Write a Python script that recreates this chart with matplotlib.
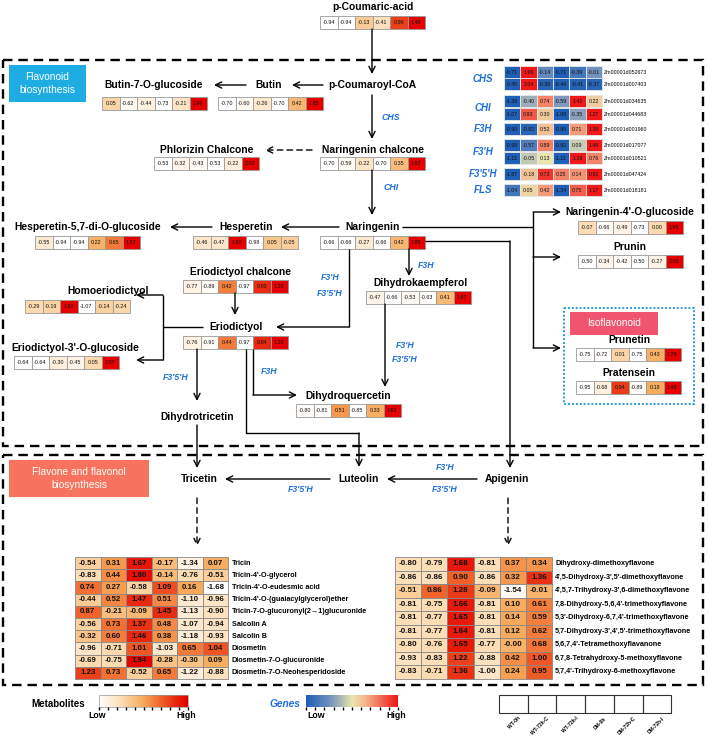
import numpy as np
import matplotlib
matplotlib.use('Agg')
import matplotlib.pyplot as plt
from matplotlib.patches import Rectangle, FancyBboxPatch
from matplotlib.colors import LinearSegmentedColormap, Normalize

plt.rcParams['font.family'] = ['Liberation Sans', 'DejaVu Sans']

# ---- data (z-scores) ----
samples = ['WT-0h', 'WT-72h-C', 'WT-72h-I', 'DM-0h', 'DM-72h-C', 'DM-72h-I']

p_coumaric_acid = [-0.94, -0.94, -0.13, -0.41, 0.96, 1.46]
butin_7_glc = [0.05, -0.62, -0.44, -0.73, -0.21, 1.96]
butin = [-0.70, -0.60, -0.26, -0.70, 0.42, 1.85]
phlorizin_chalcone = [-0.53, -0.32, -0.43, -0.53, -0.22, 2.03]
naringenin_chalcone = [-0.70, -0.59, -0.22, -0.70, 0.35, 1.87]
hesperetin_57_glc = [-0.55, -0.94, -0.94, 0.22, 0.65, 1.57]
hesperetin = [-0.46, -0.47, 1.90, -0.98, 0.05, -0.05]
naringenin = [-0.66, -0.66, -0.27, -0.66, 0.42, 1.85]
naringenin_4_glc = [-0.07, -0.66, -0.49, -0.73, 0.00, 1.95]
prunin = [-0.50, -0.34, -0.42, -0.50, -0.27, 2.03]
eriodictyol_chalcone = [-0.77, -0.89, 0.42, -0.97, 0.93, 1.28]
homoeriodictyol = [-0.29, -0.19, 1.92, -1.07, -0.14, -0.24]
dihydrokaempferol = [-0.47, -0.66, -0.53, -0.63, 0.41, 1.87]
eriodictyol = [-0.76, -0.91, 0.44, -0.97, 0.94, 1.26]
eriodictyol_3_glc = [-0.64, -0.64, -0.30, -0.45, 0.05, 1.97]
dihydroquercetin = [-0.80, -0.81, 0.51, -0.85, 0.33, 1.62]
prunetin = [-0.75, -0.72, 0.01, -0.75, 0.43, 1.78]
pratensein = [-0.95, -0.68, 0.94, -0.89, 0.18, 1.40]

gene_names = ['CHS', 'CHS', 'CHI', 'CHI', 'F3H', "F3'H", "F3'H", "F3'5'H", 'FLS']
gene_ids = ['Zm00001d052673', 'Zm00001d007403', 'Zm00001d034635', 'Zm00001d044683',
            'Zm00001d001960', 'Zm00001d017077', 'Zm00001d010521', 'Zm00001d047424',
            'Zm00001d018181']
gene_vals = [[-0.71, 1.96, -0.14, -0.71, -0.39, -0.01],
             [-0.45, 2.04, -0.38, -0.44, -0.41, -0.37],
             [-1.38, -0.40, 0.74, -0.59, 1.41, 0.22],
             [-1.07, 0.93, 0.30, -1.08, -0.35, 1.27],
             [-0.90, -0.82, 0.52, -0.90, 0.71, 1.39],
             [-0.95, -0.57, 0.89, -0.92, 0.09, 1.46],
             [-1.11, -0.05, 0.13, -1.11, 1.38, 0.76],
             [-1.87, -0.18, 0.73, 0.25, 0.14, 0.92],
             [-1.04, 0.05, 0.42, -1.34, 0.75, 1.17]]

tricin_names = ['Tricin', 'Tricin-4\'-O-glycerol', 'Tricin-4\'-O-eudesmic acid',
                'Tricin-4\'-O-(guaiacylglycerol)ether',
                'Tricin-7-O-glucuronyl(2\u21921)glucuronide', 'Salcolin A', 'Salcolin B',
                'Diosmetin', 'Diosmetin-7-O-glucuronide', 'Diosmetin-7-O-Neohesperidoside']
tricin_vals = [[-0.54, 0.31, 1.67, -0.17, -1.34, 0.07],
               [-0.83, 0.44, 1.80, -0.14, -0.76, -0.51],
               [0.74, 0.27, -0.58, 1.09, 0.16, -1.68],
               [-0.44, 0.52, 1.47, 0.51, -1.10, -0.96],
               [0.87, -0.21, -0.09, 1.45, -1.13, -0.90],
               [-0.56, 0.73, 1.37, 0.48, -1.07, -0.94],
               [-0.32, 0.60, 1.46, 0.38, -1.18, -0.93],
               [-0.96, -0.71, 1.01, -1.03, 0.65, 1.04],
               [-0.69, -0.75, 1.94, -0.28, -0.30, 0.09],
               [1.23, 0.73, -0.52, 0.65, -1.22, -0.88]]

apigenin_names = ['Dihydroxy-dimethoxyflavone', "4',5-Dihydroxy-3',5'-dimethoxyflavone",
                  "4',5,7-Trihydroxy-3',6-dimethoxyflavone", "7,8-Dihydroxy-5,6,4'-trimethoxyflavone",
                  "5,3'-Dihydroxy-6,7,4'-trimethoxyflavone", "5,7-Dihydroxy-3',4',5'-trimethoxyflavone",
                  "5,6,7,4'-Tetramethoxyflavanone", '6,7,8-Tetrahydroxy-5-methoxyflavone',
                  "5,7,4'-Trihydroxy-6-methoxyflavone"]
apigenin_vals = [[-0.80, -0.79, 1.68, -0.81, 0.37, 0.34],
                 [-0.86, -0.86, 0.90, -0.86, 0.32, 1.36],
                 [-0.51, 0.86, 1.28, -0.09, -1.54, -0.01],
                 [-0.81, -0.75, 1.66, -0.81, 0.10, 0.61],
                 [-0.81, -0.77, 1.65, -0.81, 0.14, 0.59],
                 [-0.81, -0.77, 1.64, -0.81, 0.12, 0.62],
                 [-0.80, -0.76, 1.65, -0.77, -0.0, 0.68],
                 [-0.93, -0.83, 1.22, -0.88, 0.42, 1.00],
                 [-0.83, -0.71, 1.36, -1.00, 0.24, 0.95]]

# colour maps
met_cmap = LinearSegmentedColormap.from_list('met', [(0, '#FFFFFF'), (0.25, '#FCDDB5'), (0.5, '#F7A95A'),
                                                     (0.7, '#F0622A'), (0.85, '#E82A10'), (1, '#E60000')])
gene_cmap = LinearSegmentedColormap.from_list('gene', [(0, '#1F5FB5'), (0.25, '#6E8FBF'), (0.35, '#9EADB8'),
                                                       (0.5, '#EAE6B0'), (0.65, '#F5B48C'), (0.8, '#F27058'),
                                                       (1, '#F01818')])
BLUE = '#1F6FDC'

fig = plt.figure(figsize=(7.09, 7.40), dpi=100)
ax = fig.add_axes([0, 0, 1, 1])
ax.set_xlim(0, 709)
ax.set_ylim(740, 0)
ax.axis('off')


def heat(x0, y0, vals, cw=17.5, ch=12.5, fs=3.9, cmap=met_cmap, norm=None, ec='#999999', bold=False):
    vals = np.array(vals, dtype=float)
    if norm is None:
        norm = Normalize(vals.min(), vals.max())
    for i, v in enumerate(vals):
        ax.add_patch(Rectangle((x0 + i * cw, y0), cw, ch, facecolor=cmap(norm(v)), edgecolor=ec, lw=0.6))
        ax.text(x0 + i * cw + cw / 2, y0 + ch / 2, f'{v:.2f}', ha='center', va='center', fontsize=fs,
                fontweight='bold' if bold else 'normal', color='#111111')


def node(x, y, name, fs=7.4):
    ax.text(x, y, name, ha='center', va='center', fontsize=fs, fontweight='bold')


def enz(x, y, s, fs=6.3):
    ax.text(x, y, s, ha='center', va='center', fontsize=fs, color=BLUE, style='italic', fontweight='bold')


def arr(x1, y1, x2, y2, ls='-'):
    ax.annotate('', xy=(x2, y2), xytext=(x1, y1),
                arrowprops=dict(arrowstyle='->', lw=1.0, color='k', linestyle=ls,
                                mutation_scale=11, shrinkA=0, shrinkB=0))


def line(xs, ys):
    ax.plot(xs, ys, color='k', lw=1.0, solid_capstyle='butt')


# ---- section frames ----
ax.add_patch(Rectangle((3, 60), 700, 386, fill=False, lw=1.7, ls=(0, (4, 2.5)), ec='k'))
ax.add_patch(Rectangle((3, 455), 700, 230, fill=False, lw=1.7, ls=(0, (4, 2.5)), ec='k'))

ax.add_patch(FancyBboxPatch((9, 65), 77, 37, boxstyle='square,pad=0', fc='#1EADE3', ec='none'))
ax.text(47.5, 83.5, 'Flavonoid\nbiosynthesis', ha='center', va='center', color='white', fontsize=7.3,
        linespacing=1.3)
ax.add_patch(FancyBboxPatch((9, 460), 140, 37, boxstyle='square,pad=0', fc='#F7735E', ec='none'))
ax.text(79, 478.5, 'Flavone and flavonol\nbiosynthesis', ha='center', va='center', color='white',
        fontsize=7.3, linespacing=1.3)

ax.add_patch(Rectangle((564, 308), 130, 96, fill=False, lw=1.4, ls=(0, (1, 1)), ec='#2A9BD8'))
ax.add_patch(FancyBboxPatch((570, 312), 88, 23, boxstyle='square,pad=0', fc='#F0546F', ec='none'))
ax.text(614, 323.5, 'Isoflavonoid', ha='center', va='center', color='white', fontsize=7.3)

# ---- metabolite nodes ----
node(373, 7, 'p-Coumaric-acid')
heat(320, 16, p_coumaric_acid)
node(154, 85, 'Butin-7-O-glucoside')
heat(102, 97, butin_7_glc)
node(269, 85, 'Butin')
heat(218, 97, butin)
node(372, 85, 'p-Coumaroyl-CoA')
node(207, 150, 'Phlorizin Chalcone')
heat(154, 157, phlorizin_chalcone)
node(373, 150, 'Naringenin chalcone')
heat(320, 157, naringenin_chalcone)
node(88, 227, 'Hesperetin-5,7-di-O-glucoside')
heat(35, 236, hesperetin_57_glc)
node(246, 227, 'Hesperetin')
heat(193, 236, hesperetin)
node(373, 227, 'Naringenin')
heat(320, 236, naringenin)
node(630, 212, "Naringenin-4'-O-glucoside")
heat(578, 221, naringenin_4_glc)
node(630, 247, 'Prunin')
heat(578, 255, prunin)
node(240, 272, 'Eriodictyol chalcone')
heat(183, 280, eriodictyol_chalcone)
node(108, 291, 'Homoeriodictyol')
heat(25, 300, homoeriodictyol)
node(420, 283, 'Dihydrokaempferol')
heat(366, 291, dihydrokaempferol)
node(236, 327, 'Eriodictyol')
heat(183, 336, eriodictyol)
node(75, 348, "Eriodictyol-3'-O-glucoside")
heat(14, 356, eriodictyol_3_glc)
node(348, 396, 'Dihydroquercetin')
heat(296, 404, dihydroquercetin)
node(197, 417, 'Dihydrotricetin')
node(629, 340, 'Prunetin')
heat(576, 348, prunetin)
node(629, 373, 'Pratensein')
heat(576, 381, pratensein)

node(199, 479, 'Tricetin')
node(359, 479, 'Luteolin')
node(507, 479, 'Apigenin')

# ---- arrows ----
arr(372, 29, 372, 74)
arr(323, 85, 292, 85)
arr(246, 85, 214, 85)
arr(372, 95, 372, 139)
enz(391, 117, 'CHS')
arr(312, 150, 265, 150, ls=(0, (4, 3)))
arr(372, 170, 372, 215)
enz(391, 188, 'CHI')
arr(339, 227, 281, 227)
arr(212, 227, 170, 227)
line([402, 533], [227, 227])
line([533, 533], [212, 348])
arr(533, 212, 561, 212)
arr(533, 257, 561, 257)
arr(533, 348, 561, 348)
arr(409, 249, 409, 276)
enz(426, 266, 'F3H')
line([349, 349], [249, 327])
arr(349, 327, 276, 327)
enz(330, 278, "F3'H")
enz(330, 294, "F3'5'H")
arr(235, 293, 235, 315)
line([203, 163], [327, 327])
line([163, 163], [295, 360])
arr(163, 295, 136, 295)
arr(163, 360, 136, 360)
line([425, 510], [241, 241])
arr(510, 241, 510, 468)
arr(385, 304, 385, 387)
enz(405, 345, "F3'H")
enz(405, 359, "F3'5'H")
arr(197, 349, 197, 401)
enz(176, 378, "F3'5'H")
line([253, 253], [349, 395])
arr(253, 395, 297, 395)
enz(269, 371, 'F3H')
line([246, 246, 359], [349, 433, 433])
arr(359, 433, 359, 467)
arr(197, 425, 197, 468)
arr(330, 479, 225, 479)
enz(301, 490, "F3'5'H")
arr(477, 479, 387, 479)
enz(445, 468, "F3'H")
enz(445, 490, "F3'5'H")
arr(197, 498, 197, 546, ls=(0, (4, 3)))
arr(508, 498, 508, 546, ls=(0, (4, 3)))

# ---- gene panel ----
gene_rows_y = [66, 78, 95, 108, 123, 139, 152, 168, 184]
gene_label_y = {'CHS': 79, 'CHI': 108, 'F3H': 129, "F3'H": 152, "F3'5'H": 174, 'FLS': 190}
for g, yy in gene_label_y.items():
    enz(483, yy, g, fs=7)
for vals, gid, yy in zip(gene_vals, gene_ids, gene_rows_y):
    heat(504, yy, vals, cw=16.3, ch=12.2, fs=3.8, cmap=gene_cmap, ec='#E8E8E8')
    ax.text(604, yy + 6.1, gid, ha='left', va='center', fontsize=3.8)

# ---- flavone heatmaps ----
bnorm = Normalize(-1.7, 2.0)
for k, (vals, nm) in enumerate(zip(tricin_vals, tricin_names)):
    y0 = 557 + k * 12.2
    heat(75, y0, vals, cw=25.5, ch=12.2, fs=5.7, norm=bnorm, ec='#888888', bold=True)
    ax.text(232, y0 + 6.1, nm, ha='left', va='center', fontsize=5.2, fontweight='bold')
for k, (vals, nm) in enumerate(zip(apigenin_vals, apigenin_names)):
    y0 = 557 + k * 13.5
    heat(395, y0, vals, cw=26.2, ch=13.5, fs=5.8, norm=bnorm, ec='#888888', bold=True)
    ax.text(555, y0 + 6.75, nm, ha='left', va='center', fontsize=5.2, fontweight='bold')

# ---- legends ----
grad = np.linspace(0, 1, 256).reshape(1, -1)
ax.text(58, 704, 'Metabolites', ha='center', va='center', fontsize=7, fontweight='bold')
ax.imshow(grad, cmap=met_cmap, extent=(99, 188, 707, 695), aspect='auto')
ax.add_patch(Rectangle((99, 695), 89, 12, fill=False, lw=0.5, ec='#999999'))
ax.text(97, 716, 'Low', ha='center', va='center', fontsize=6.3, fontweight='bold')
ax.text(186, 716, 'High', ha='center', va='center', fontsize=6.3, fontweight='bold')
ax.text(285, 704, 'Genes', ha='center', va='center', fontsize=7.3, fontweight='bold', style='italic',
        color=BLUE)
ax.imshow(grad, cmap=gene_cmap, extent=(306, 398, 707, 695), aspect='auto')
ax.text(316, 716, 'Low', ha='center', va='center', fontsize=6.3, fontweight='bold')
ax.text(396, 716, 'High', ha='center', va='center', fontsize=6.3, fontweight='bold')
for x0, x1 in [(99, 188), (306, 398)]:
    for t in np.linspace(x0, x1, 11):
        line([t, t], [707, 709.5])

for i, s in enumerate(samples):
    bx = 499 + i * 28.7
    ax.add_patch(Rectangle((bx, 695), 28.7, 18, fill=False, lw=0.8, ec='#333333'))
    ax.text(bx + 19, 716, s, ha='right', va='top', rotation=45, fontsize=3.6, fontweight='bold',
            rotation_mode='anchor')

fig.savefig('out.png', dpi=100)
